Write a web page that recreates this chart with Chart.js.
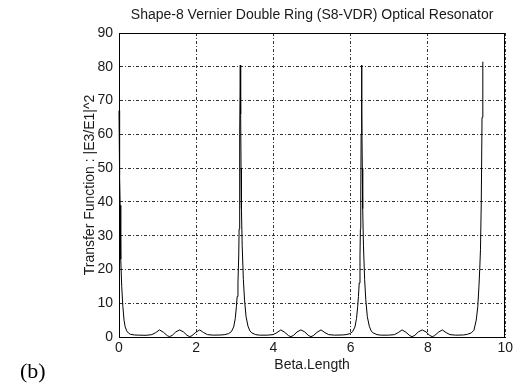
<!DOCTYPE html>
<html>
<head>
<meta charset="utf-8">
<script src="https://cdn.jsdelivr.net/npm/chart.js@4/dist/chart.umd.min.js"></script>
<style>
  html, body { margin: 0; padding: 0; background: #fff; }
  #wrap { width: 516px; height: 391px; position: relative; }
</style>
</head>
<body>
<div id="wrap"><canvas id="c" width="516" height="391"></canvas></div>
<script>
// ---- Data ----
const chartTitle = "Shape-8 Vernier Double Ring (S8-VDR) Optical Resonator";
const xAxisTitle = "Beta.Length";
const yAxisTitle = "Transfer Function : |E3/E1|^2";
const panelLabel = "(b)";
const xTicks = [0, 2, 4, 6, 8, 10];
const yTicks = [0, 10, 20, 30, 40, 50, 60, 70, 80, 90];

const betaLength = [
  0, 0.01, 0.02, 0.03, 0.04, 0.05, 0.07, 0.10, 0.13, 0.16, 0.20, 0.25, 0.30, 0.40, 0.50, 0.70,
  0.85, 0.95, 1.05, 1.15, 1.25, 1.31, 1.38, 1.47, 1.57, 1.67, 1.76, 1.83, 1.89, 1.99, 2.09, 2.19,
  2.29, 2.44, 2.64, 2.74, 2.84, 2.91, 2.97, 3.01, 3.04, 3.06, 3.08, 3.10, 3.11, 3.12, 3.13, 3.14,
  3.15, 3.16, 3.17, 3.19, 3.22, 3.25, 3.29, 3.34, 3.39, 3.44, 3.54, 3.64, 3.84,
  3.99, 4.09, 4.19, 4.29, 4.39, 4.45, 4.52, 4.61, 4.71, 4.81, 4.90, 4.97, 5.03, 5.13, 5.23, 5.33,
  5.43, 5.58, 5.78, 5.88, 5.98, 6.05, 6.11, 6.15, 6.18, 6.20, 6.22, 6.24, 6.25, 6.26, 6.27, 6.28,
  6.29, 6.30, 6.31, 6.33, 6.36, 6.39, 6.43, 6.48, 6.53, 6.58, 6.68, 6.78, 6.98,
  7.13, 7.23, 7.33, 7.43, 7.53, 7.59, 7.66, 7.75, 7.85, 7.95, 8.04, 8.11, 8.17, 8.27, 8.37, 8.47,
  8.57, 8.72, 8.92, 9.02, 9.12, 9.19, 9.25, 9.29, 9.32, 9.34, 9.36, 9.38, 9.40, 9.42
];
const transfer = [
  67, 58, 48, 39, 30, 23, 15, 9, 5, 3, 1.8, 1.1, 0.8, 0.6, 0.55, 0.5,
  0.7, 1.3, 2.1, 1.4, 0.4, 0.1, 0.5, 1.5, 2.1, 1.5, 0.5, 0.1, 0.4, 1.4, 2.1, 1.3,
  0.7, 0.55, 0.6, 0.7, 1.0, 1.6, 3.0, 5.5, 9, 12, 16, 24, 32, 42, 60, 80.5,
  66, 50, 38, 27, 17, 11, 6, 3.2, 1.8, 1.2, 0.7, 0.55, 0.55,
  0.7, 1.3, 2.1, 1.4, 0.4, 0.1, 0.5, 1.5, 2.1, 1.5, 0.5, 0.1, 0.4, 1.4, 2.1, 1.3,
  0.7, 0.55, 0.6, 0.7, 1.0, 1.6, 3.0, 5.5, 9, 12, 16, 24, 32, 42, 60, 80.5,
  66, 50, 38, 27, 17, 11, 6, 3.2, 1.8, 1.2, 0.7, 0.55, 0.55,
  0.7, 1.3, 2.1, 1.4, 0.4, 0.1, 0.5, 1.5, 2.1, 1.5, 0.5, 0.1, 0.4, 1.4, 2.1, 1.3,
  0.7, 0.55, 0.6, 0.8, 1.2, 2.0, 5, 9, 15, 20, 26, 40, 65, 81.5
];

// ---- Chart ----
const FONT = "'Liberation Sans', Arial, sans-serif";
const TEXT = '#1a1a1a';
const points = betaLength.map((x, i) => ({ x: x, y: transfer[i] }));

const frame = {
  id: 'frame',
  beforeDatasetsDraw(chart) {
    const { ctx, chartArea: a } = chart;
    ctx.save();
    ctx.strokeStyle = '#000';
    ctx.lineWidth = 1;
    ctx.strokeRect(Math.round(a.left) + 0.5, Math.round(a.top) + 0.5,
                   Math.round(a.right - a.left) - 1, Math.round(a.bottom - a.top));
    ctx.restore();
  },
  afterDraw(chart) {
    const { ctx } = chart;
    ctx.save();
    ctx.fillStyle = '#000';
    ctx.font = "22px 'Liberation Serif', 'Times New Roman', serif";
    ctx.textBaseline = 'alphabetic';
    ctx.textAlign = 'left';
    ctx.fillText(panelLabel, 20, 378);
    ctx.restore();
  }
};

new Chart(document.getElementById('c'), {
  type: 'line',
  data: {
    datasets: [{
      data: points,
      borderColor: '#000',
      borderWidth: 1,
      pointRadius: 0,
      tension: 0,
      fill: false,
      clip: 2
    }]
  },
  options: {
    responsive: false,
    animation: false,
    devicePixelRatio: 1,
    layout: { padding: { left: 0, right: 9, top: 0, bottom: 0 } },
    plugins: {
      legend: { display: false },
      tooltip: { enabled: false },
      title: {
        display: true,
        text: chartTitle,
        fullSize: false,
        color: TEXT,
        font: { family: FONT, size: 14, weight: 'normal' },
        padding: { top: 6.6, bottom: 9.6 }
      }
    },
    scales: {
      x: {
        type: 'linear',
        min: 0, max: 10,
        afterBuildTicks: (s) => { s.ticks = xTicks.map(v => ({ value: v })); },
        afterFit: (s) => { s.height = 54; },
        ticks: { color: TEXT, font: { family: FONT, size: 14 }, padding: 3, maxRotation: 0 },
        grid: { color: '#333', lineWidth: 1, drawTicks: false },
        border: { display: true, color: '#000', dash: [3, 2, 1, 2] },
        title: { display: true, text: xAxisTitle, color: TEXT,
                 font: { family: FONT, size: 14 }, padding: { top: 0, bottom: 17.6 } }
      },
      y: {
        type: 'linear',
        min: 0, max: 90,
        afterBuildTicks: (s) => { s.ticks = yTicks.map(v => ({ value: v })); },
        afterFit: (s) => { s.width = 119; },
        ticks: { color: TEXT, font: { family: FONT, size: 14 }, padding: 6 },
        grid: { color: '#333', lineWidth: 1, drawTicks: false },
        border: { display: true, color: '#000', dash: [3, 2, 1, 2] },
        title: { display: true, text: yAxisTitle, color: TEXT,
                 font: { family: FONT, size: 14 }, padding: { top: 81.6, bottom: 0 } }
      }
    }
  },
  plugins: [frame]
});
</script>
</body>
</html>
